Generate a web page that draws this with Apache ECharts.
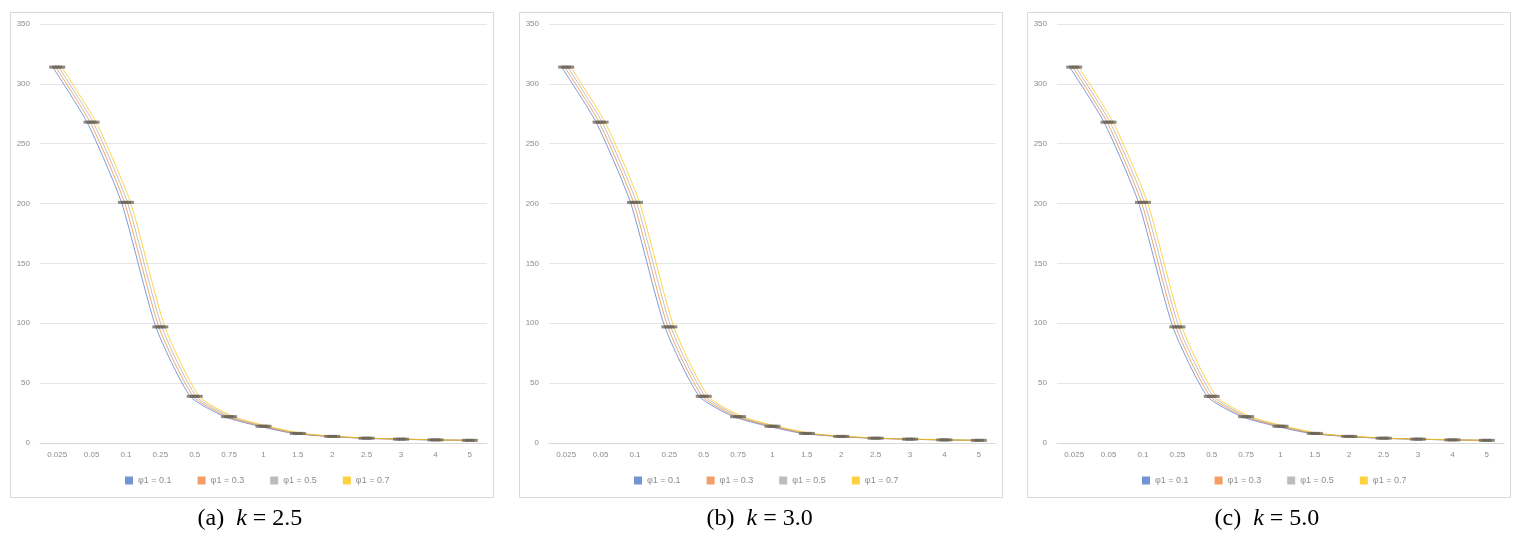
<!DOCTYPE html>
<html>
<head>
<meta charset="utf-8">
<script src="https://cdn.jsdelivr.net/npm/echarts@6/dist/echarts.min.js"></script>
<style>
html,body{margin:0;padding:0;background:#fff;}
#c{width:1523px;height:533px;}
</style>
</head>
<body>
<div id="c"></div>
<script>
// ---- data ----
const categories = ['0.025','0.05','0.1','0.25','0.5','0.75','1','1.5','2','2.5','3','4','5'];
const seriesNames = ['φ1 = 0.1','φ1 = 0.3','φ1 = 0.5','φ1 = 0.7'];
const yTicks = [0, 50, 100, 150, 200, 250, 300, 350];
// values per panel (k = 2.5, 3.0, 5.0), per φ1 series
const k25_phi01 = [314, 268, 201, 97, 39, 22, 14, 8, 5.5, 4, 3.2, 2.6, 2.2];
const k25_phi03 = [314, 268, 201, 97, 39, 22, 14, 8, 5.5, 4, 3.2, 2.6, 2.2];
const k25_phi05 = [314, 268, 201, 97, 39, 22, 14, 8, 5.5, 4, 3.2, 2.6, 2.2];
const k25_phi07 = [314, 268, 201, 97, 39, 22, 14, 8, 5.5, 4, 3.2, 2.6, 2.2];
const k30_phi01 = [314, 268, 201, 97, 39, 22, 14, 8, 5.5, 4, 3.2, 2.6, 2.2];
const k30_phi03 = [314, 268, 201, 97, 39, 22, 14, 8, 5.5, 4, 3.2, 2.6, 2.2];
const k30_phi05 = [314, 268, 201, 97, 39, 22, 14, 8, 5.5, 4, 3.2, 2.6, 2.2];
const k30_phi07 = [314, 268, 201, 97, 39, 22, 14, 8, 5.5, 4, 3.2, 2.6, 2.2];
const k50_phi01 = [314, 268, 201, 97, 39, 22, 14, 8, 5.5, 4, 3.2, 2.6, 2.2];
const k50_phi03 = [314, 268, 201, 97, 39, 22, 14, 8, 5.5, 4, 3.2, 2.6, 2.2];
const k50_phi05 = [314, 268, 201, 97, 39, 22, 14, 8, 5.5, 4, 3.2, 2.6, 2.2];
const k50_phi07 = [314, 268, 201, 97, 39, 22, 14, 8, 5.5, 4, 3.2, 2.6, 2.2];
const panelLabels = ['(a)', '(b)', '(c)'];
const kValues = ['2.5', '3.0', '5.0'];

// ---- layout / style ----
const panelData = [
  [k25_phi01, k25_phi03, k25_phi05, k25_phi07],
  [k30_phi01, k30_phi03, k30_phi05, k30_phi07],
  [k50_phi01, k50_phi03, k50_phi05, k50_phi07]
];
const colors = ['#4472C4', '#ED7D31', '#A5A5A5', '#FFC000'];
const panelLeft = [10, 519, 1027];
const panelW = 483, panelTop = 12, panelH = 485;
const plotL = 30, plotW = 447, plotTop = 24, plotH = 419;
const offsets = [-4.5, -1.5, 1.5, 4.5];

const grid = [], xAxis = [], yAxis = [], series = [], legend = [], graphic = [], title = [];
const fontAxis = {fontSize: 8, color: '#8c8c8c', fontFamily: 'Liberation Sans'};

panelLeft.forEach((pl, p) => {
  graphic.push({
    type: 'rect', left: pl, top: panelTop, z: -1,
    shape: {width: panelW, height: panelH},
    style: {fill: '#fff', stroke: '#d9d9d9', lineWidth: 1}
  });
  const baseIdx = grid.length;
  grid.push({left: pl + plotL, top: plotTop, width: plotW, height: plotH});
  xAxis.push({
    type: 'category', gridIndex: baseIdx, data: categories, boundaryGap: true,
    axisLine: {show: true, lineStyle: {color: '#d9d9d9'}},
    axisTick: {show: false},
    axisLabel: Object.assign({margin: 8, interval: 0}, fontAxis),
    splitLine: {show: false}
  });
  yAxis.push({
    type: 'value', gridIndex: baseIdx, min: 0, max: 350, interval: 50,
    axisLine: {show: false}, axisTick: {show: false},
    axisLabel: Object.assign({margin: 10}, fontAxis),
    splitLine: {show: true, lineStyle: {color: '#e6e6e6'}}
  });
  for (let s = 0; s < 4; s++) {
    const gi = grid.length;
    grid.push({left: pl + plotL + offsets[s], top: plotTop, width: plotW, height: plotH});
    xAxis.push({type: 'category', gridIndex: gi, data: categories, show: false, boundaryGap: true});
    yAxis.push({type: 'value', gridIndex: gi, min: 0, max: 350, show: false, splitLine: {show: false}});
    series.push({
      type: 'line', name: seriesNames[s], xAxisIndex: gi, yAxisIndex: gi,
      data: panelData[p][s], smooth: 0.2,
      color: colors[s],
      lineStyle: {width: 1, color: colors[s], opacity: 0.7},
      symbol: 'rect', symbolSize: [7, 3],
      itemStyle: {color: '#6b6458', opacity: 0.75},
      emphasis: {disabled: true}, animation: false
    });
  }
  legend.push({
    left: pl + 110, top: 471, itemWidth: 8, itemHeight: 8, itemGap: 26,
    icon: 'rect',
    textStyle: {fontSize: 9, color: '#8c8c8c', fontFamily: 'Liberation Sans'},
    data: seriesNames.map((n, i) => ({name: n, itemStyle: {color: colors[i]}}))
  });
  title.push({
    text: '{n|' + panelLabels[p] + '  }{k|k}{n| = ' + kValues[p] + '}',
    left: pl + panelW / 2 - 59, top: 502,
    textStyle: {
      fontWeight: 'normal',
      rich: {
        n: {fontSize: 24, fontFamily: 'Liberation Serif', fontWeight: 'normal', color: '#000'},
        k: {fontSize: 24, fontFamily: 'Liberation Serif', fontStyle: 'italic', fontWeight: 'normal', color: '#000'}
      }
    }
  });
});

const chart = echarts.init(document.getElementById('c'));
chart.setOption({
  animation: false,
  backgroundColor: '#fff',
  title, grid, xAxis, yAxis, series, legend, graphic
});
</script>
</body>
</html>
